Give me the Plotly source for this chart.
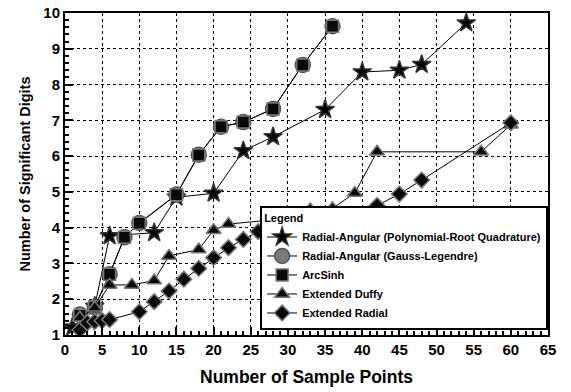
import plotly.graph_objects as go

# Data
star_x = [1, 4, 6, 12, 15, 20, 24, 28, 35, 40, 45, 48, 54]
star_y = [1.22, 1.80, 3.77, 3.86, 4.85, 4.96, 6.15, 6.54, 7.30, 8.35, 8.40, 8.56, 9.72]

gl_x = [2, 4, 6, 8, 10, 15, 18, 21, 24, 28, 32, 36]
gl_y = [1.57, 1.78, 2.70, 3.73, 4.13, 4.93, 6.04, 6.82, 6.95, 7.32, 8.55, 9.63]

asinh_x = [2, 4, 6, 8, 10, 15, 18, 21, 24, 28, 32, 36]
asinh_y = [1.55, 1.78, 2.70, 3.73, 4.12, 4.92, 6.03, 6.82, 6.95, 7.32, 8.55, 9.63]

duffy_x = [2, 4, 6, 9, 12, 14, 18, 20, 22, 30, 33, 36, 39, 42, 56, 60]
duffy_y = [1.48, 1.76, 2.40, 2.40, 2.52, 3.21, 3.39, 3.93, 4.10, 4.26, 4.51, 4.54, 4.97, 6.12, 6.12, 6.88]

erad_x = [2, 3, 4, 5, 6, 10, 12, 14, 16, 18, 20, 22, 24, 26, 28, 30, 32, 39, 42, 45, 48, 60]
erad_y = [1.14, 1.34, 1.37, 1.40, 1.43, 1.65, 1.93, 2.23, 2.56, 2.86, 3.16, 3.44, 3.67, 3.89,
          3.96, 4.03, 4.04, 4.26, 4.62, 4.94, 5.33, 6.93]

names = ["Radial-Angular (Polynomial-Root Quadrature)", "Radial-Angular (Gauss-Legendre)",
         "ArcSinh", "Extended Duffy", "Extended Radial"]

x_ticks = list(range(0, 70, 5))
y_ticks = list(range(1, 11))

fig = go.Figure()
specs = [
    (star_x, star_y, "star", 14, "#000000", "#333333"),
    (gl_x, gl_y, "circle", 15, "#7a7a7a", "#555555"),
    (asinh_x, asinh_y, "square", 12, "#0a0a0a", "#777777"),
    (duffy_x, duffy_y, "triangle-up", 13, "#0a0a0a", "#777777"),
    (erad_x, erad_y, "diamond", 12, "#0a0a0a", "#777777"),
]
for (xs, ys, sym, sz, fill, edge), nm in zip(specs, names):
    fig.add_trace(go.Scatter(
        x=xs, y=ys, name=nm, mode="lines+markers",
        line=dict(color="black", width=1),
        marker=dict(symbol=sym, size=sz, color=fill, line=dict(color=edge, width=1.5)),
    ))

axis_common = dict(
    showline=True, linecolor="black", linewidth=2, mirror=True,
    showgrid=True, gridcolor="black", griddash="dot", gridwidth=1,
    ticks="inside", ticklen=8, tickwidth=1.5, tickcolor="black",
    zeroline=False, automargin=False, ticklabeloverflow="allow",
    tickfont=dict(family="Liberation Sans", size=15, color="black", weight="bold"),
)

fig.update_layout(
    width=571, height=392,
    margin=dict(l=65, r=23, t=13, b=57),
    paper_bgcolor="white", plot_bgcolor="white",
    font=dict(family="Liberation Sans", color="black"),
    xaxis=dict(range=[0, 65], tickvals=x_ticks,
               minor=dict(dtick=1, ticks="inside", ticklen=4, tickcolor="black", showgrid=False),
               title=dict(text="<b>Number of Sample Points</b>", font=dict(size=17.5), standoff=14),
               **axis_common),
    yaxis=dict(range=[1, 10], tickvals=y_ticks,
               minor=dict(dtick=0.2, ticks="inside", ticklen=4, tickcolor="black", showgrid=False),
               title=dict(text="<b>Number of Significant Digits</b>", font=dict(size=14.5), standoff=9),
               **axis_common),
    showlegend=True,
    legend=dict(
        x=0.404, y=0.015, xanchor="left", yanchor="bottom",
        bgcolor="white", bordercolor="black", borderwidth=2,
        title=dict(text="<b>Legend</b>", font=dict(size=11)),
        font=dict(size=11, weight="bold"),
        tracegroupgap=0, itemwidth=30,
    ),
)

fig.write_html("out.html", config={"displayModeBar": False},
               post_script="document.body.style.margin='0';")
